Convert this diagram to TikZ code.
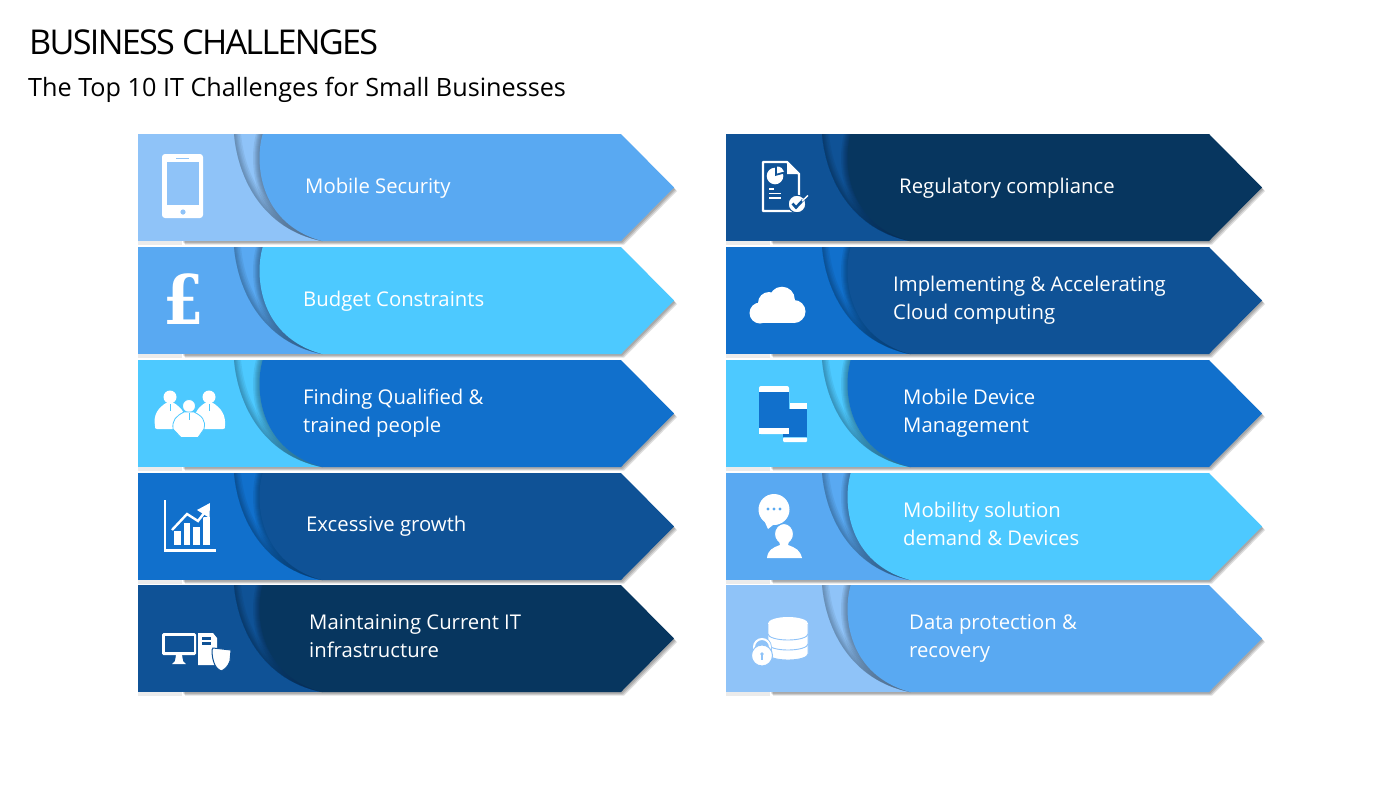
\documentclass[tikz,border=0pt]{standalone}
\usepackage{fontspec}
\setmainfont{Open Sans}
\newfontfamily\titlefont[LetterSpace=-5]{Open Sans}
\newfontfamily\subfont{Open Sans}
\newfontfamily\poundfont{DejaVu Serif}
\definecolor{cLight}{HTML}{8FC3F8}
\definecolor{cBlue}{HTML}{59A9F2}
\definecolor{cCyan}{HTML}{4DC9FF}
\definecolor{cMid}{HTML}{1170CC}
\definecolor{cDark}{HTML}{0F5296}
\definecolor{cDeep}{HTML}{07365F}
\tikzset{
  lbl/.style={text=white,anchor=west,align=left,inner sep=0pt,font=\fontsize{20.3}{28}\selectfont},
  ico/.style={fill=white,draw=none},
  softshadow/.style={fill=black,opacity=.13,draw=none},
}
\newcommand{\flapcurve}{(96,0) .. controls (100,45) and (125,95) .. (184,107)}
\newcommand{\maincurve}{(124.7,0) .. controls (116,30) and (122,90) .. (184,107)}
\newcommand{\bandrow}[4]{%
\begin{scope}[shift={(#1,#2)}]
  \foreach \d in {1,2,3}{
    \fill[softshadow,shift={(\d,\d+.6)}] (44,0) -- (483,0) -- (536,53.5) -- (483,107) -- (44,107) -- cycle;
  }
  \fill[black,opacity=.08] (0,107) rectangle (44,110.5);
  \fill[#3] (0,0) rectangle (190,107);
  \begin{scope}
    \clip \flapcurve -- (190,107) -- (190,0) -- cycle;
    \foreach \w in {2,4,6,8,11,14}{
      \draw[#3!50!black,opacity=.11,line width=\w pt] \flapcurve;
    }
    \foreach \w in {2,4,6,8,10,13}{
      \draw[#3!50!black,opacity=.13,line width=\w pt] \maincurve;
    }
  \end{scope}
  \fill[#4] \maincurve -- (483,107) -- (536,53.5) -- (483,0) -- cycle;
\end{scope}}
\begin{document}
\begin{tikzpicture}[x=1pt,y=-1pt]
\useasboundingbox (0,0) rectangle (1400,788);
\fill[white] (0,0) rectangle (1400,788);
\node[anchor=west,inner sep=0pt,font=\titlefont\fontsize{34.2}{38}\selectfont] (title) at (29,42) {BUSINESS CHALLENGES};
\node[anchor=west,inner sep=0pt,font=\subfont\fontsize{25.2}{30}\selectfont] (subtitle) at (28,89.5) {The Top 10 IT Challenges for Small Businesses};
% bands
\bandrow{138}{134}{cLight}{cBlue}
\bandrow{138}{247}{cBlue}{cCyan}
\bandrow{138}{360}{cCyan}{cMid}
\bandrow{138}{473}{cMid}{cDark}
\bandrow{138}{585}{cDark}{cDeep}
\bandrow{726}{134}{cDark}{cDeep}
\bandrow{726}{247}{cMid}{cDark}
\bandrow{726}{360}{cCyan}{cMid}
\bandrow{726}{473}{cBlue}{cCyan}
\bandrow{726}{585}{cLight}{cBlue}
% labels
\node[lbl] (l1) at (305,188.5) {Mobile Security};
\node[lbl] (l2) at (303,301.5) {Budget Constraints};
\node[lbl] (l3) at (303,413) {Finding Qualified \&\\trained people};
\node[lbl] (l4) at (306,526.5) {Excessive growth};
\node[lbl] (l5) at (309,636) {Maintaining Current IT\\infrastructure};
\node[lbl] (r1) at (899,188.5) {Regulatory compliance};
\node[lbl] (r2) at (893,300) {Implementing \& Accelerating\\Cloud computing};
\node[lbl] (r3) at (903,413) {Mobile Device\\Management};
\node[lbl] (r4) at (903,523.5) {Mobility solution\\demand \& Devices};
\node[lbl] (r5) at (909,638) {Data protection \&\\recovery};
% phone icon
\fill[ico,rounded corners=3] (162,154) rectangle (203,218);
\fill[cLight] (167,162) rectangle (199,205);
\draw[cLight,line width=.8pt] (176,158) -- (189,158);
\fill[cLight] (183,212) circle (2.6);
% pound icon
\node[inner sep=0pt,text=white,font=\poundfont\bfseries\fontsize{58}{60}\selectfont] (pound) at (184,299) {\scalebox{1}[1.18]{£}};
% people icon
\fill[ico] (170,397) circle (6.5);
\fill[ico] (209,397) circle (6.5);
\fill[ico] (155,426) .. controls (153,415) and (158,408) .. (166,403) -- (174,403) .. controls (182,408) and (187,415) .. (186,426) -- (186,429) -- (157,429) .. controls (155,429) and (155,428) .. (155,426) -- cycle;
\fill[ico] (194,426) .. controls (193,415) and (197,408) .. (205,403) -- (213,403) .. controls (221,408) and (226,415) .. (225,426) .. controls (225,428) and (225,429) .. (223,429) -- (194,429) -- cycle;
\fill[ico,draw=cCyan,line width=.8pt] (189,406) circle (6.5);
\fill[ico,draw=cCyan,line width=.8pt] (173,429) .. controls (172,420) and (176,416) .. (184,412) -- (194,412) .. controls (202,416) and (206,420) .. (204,429) -- (198,437.5) -- (181,437.5) -- cycle;
\draw[cCyan,line width=.5pt] (170,404) -- (170,411) (209,404) -- (209,411) (189,413) -- (189,420);
% chart icon
\draw[white,line width=2.2pt] (165,500) -- (165,550.5) -- (216,550.5);
\fill[ico] (174,531) rectangle (181,545);
\fill[ico] (183.5,523) rectangle (190,545);
\fill[ico] (193,527) rectangle (200,545);
\fill[ico] (203,517) rectangle (209.5,545);
\draw[cMid,line width=4.2pt] (172,530) -- (187,514) -- (198,521) -- (208,508);
\draw[white,line width=2.4pt] (172,530) -- (187,514) -- (198,521) -- (208,508);
\fill[ico] (210,503) -- (209.5,518) -- (197,510) -- cycle;
% computer icon
\fill[ico,rounded corners=1.5] (162,633) rectangle (196,655);
\fill[cDark] (164.5,635.5) rectangle (193.5,652);
\fill[ico] (176,655) -- (182,655) -- (183,661) -- (186,664) -- (172,664) -- (175,661) -- cycle;
\fill[ico] (198,633) -- (213,633) -- (217,638) -- (217,665) -- (198,665) -- cycle;
\fill[cDark] (202,637) rectangle (211,639.5);
\fill[cDark] (202,642) rectangle (211,644.5);
\fill[ico,draw=cDark,line width=1pt] (213,648) -- (231,650) -- (230,661) .. controls (228,667) and (224,670) .. (221,671) .. controls (216,669) and (212,662) .. (212,650) -- cycle;
% document icon
\draw[white,line width=2.4pt,line join=round] (787,162) -- (763,162) -- (763,211) -- (799,211) -- (799,174) -- cycle;
\fill[ico] (787,162) -- (787,174) -- (799,174) -- cycle;
\fill[ico] (775,176) circle (8.3);
\fill[cDark] (775,176) -- (775,166) -- (786,166) -- (786,173) -- cycle;
\fill[ico] (777,173.5) -- (777,166.5) .. controls (781,166.5) and (783,169) .. (784,171.5) -- cycle;
\draw[white,line width=1.6pt] (769,189) -- (774,189) (769,193.5) -- (781,193.5) (769,198) -- (781,198);
\fill[ico,draw=cDark,line width=1pt] (797,204) circle (8.8);
\draw[cDark,line width=2.6pt] (792.5,203.5) -- (796,207.5) -- (803,200);
\draw[white,line width=1.4pt] (802,201) -- (808,195.5);
% cloud icon
\fill[ico] (760,313) circle (10.5);
\fill[ico] (769,303) circle (11);
\fill[ico] (782,299.5) circle (12.8);
\fill[ico] (794,311.5) circle (11.5);
\fill[ico] (760,310) rectangle (794,323);
% mobile devices icon
\fill[ico,rounded corners=2] (759,386) rectangle (789,434);
\fill[cMid] (759,392) rectangle (789,428);
\fill[ico] (790,403) rectangle (807,408.5);
\fill[cMid] (789,409) rectangle (807,437);
\fill[cMid] (783,428) rectangle (790,437);
\fill[ico] (759,428) rectangle (789,433.5);
\fill[ico,rounded corners=1] (783,437.5) rectangle (807,442);
% chat person icon
\fill[ico] (774,509.5) circle (15.5);
\fill[ico] (763,518) -- (768,529) -- (778,521) -- cycle;
\fill[cBlue] (768,509) circle (1.7) (774,509) circle (1.7) (780,509) circle (1.7);
\fill[ico,draw=cBlue,line width=1pt] (784,534) ellipse (9.5 and 10.5);
\fill[ico] (767,558) .. controls (768,550) and (772,548) .. (780,545) -- (779,541) -- (789,541) -- (788,545) .. controls (796,548) and (800,550) .. (802,558) -- cycle;
% database lock icon
\foreach \yy in {644,634,624}{
  \fill[ico,draw=cLight,line width=.9pt] (768,\yy) -- (768,\yy+10) arc (180:0:20 and 6) -- (808,\yy) -- cycle;
}
\fill[ico] (788,623.5) ellipse (20 and 6.5);
\draw[cLight,line width=3.6pt] (754,651) -- (754,647) arc (180:360:8 and 8) -- (770,651);
\draw[white,line width=2pt] (754,651) -- (754,647) arc (180:360:8 and 8) -- (770,651);
\fill[ico,draw=cLight,line width=1pt] (762,655.5) circle (10.5);
\fill[cLight] (762,654) circle (1.8);
\draw[cLight,line width=1.4pt] (762,655) -- (762,660);
\end{tikzpicture}
\end{document}
